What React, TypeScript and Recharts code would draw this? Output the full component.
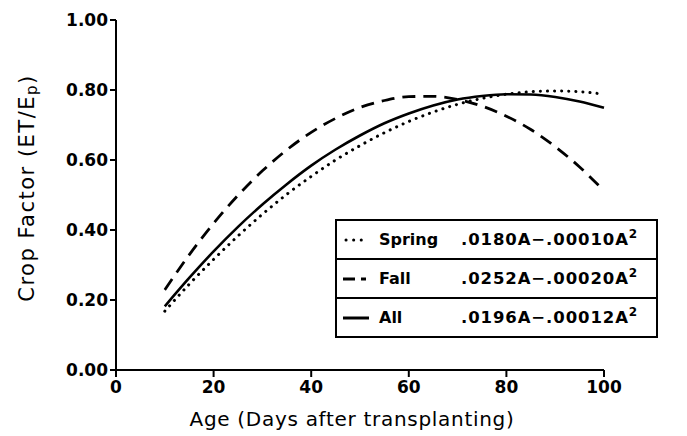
import { Line, LineChart, XAxis, YAxis } from "recharts";

document.body.style.margin = "0";

const days = [10, 15, 20, 25, 30, 35, 40, 45, 50, 55, 60, 65, 70, 75, 80, 85, 90, 95, 100];
const spring = [0.168, 0.245, 0.316, 0.383, 0.445, 0.502, 0.553, 0.6, 0.641, 0.678, 0.71, 0.737, 0.759, 0.776, 0.788, 0.795, 0.797, 0.795, 0.788];
const fall = [0.229, 0.329, 0.419, 0.499, 0.569, 0.629, 0.679, 0.719, 0.75, 0.77, 0.781, 0.782, 0.773, 0.754, 0.725, 0.687, 0.638, 0.58, 0.512];
const all = [0.182, 0.263, 0.339, 0.409, 0.473, 0.531, 0.584, 0.63, 0.67, 0.705, 0.733, 0.756, 0.773, 0.783, 0.788, 0.787, 0.78, 0.767, 0.749];

const xTicks = [0, 20, 40, 60, 80, 100];
const yTicks = [0, 0.2, 0.4, 0.6, 0.8, 1.0];

const legendRows = [
  { name: "Spring", coef: ".0180A\u2212.00010A", kind: "dot" },
  { name: "Fall", coef: ".0252A\u2212.00020A", kind: "dash" },
  { name: "All", coef: ".0196A\u2212.00012A", kind: "solid" },
];

const data = days.map((d, i) => ({ day: d, spring: spring[i], fall: fall[i], all: all[i] }));

const font = "'DejaVu Sans', sans-serif";

function Sample({ kind }: { kind: string }) {
  return (
    <svg width={28} height={10} style={{ display: "block" }}>
      {kind === "dot" && (
        <line x1={3} y1={5} x2={24} y2={5} stroke="#000" strokeWidth={3} strokeDasharray="0.1 7.5" strokeLinecap="round" />
      )}
      {kind === "dash" && (
        <>
          <line x1={0} y1={5} x2={12} y2={5} stroke="#000" strokeWidth={3} />
          <line x1={18} y1={5} x2={23} y2={5} stroke="#000" strokeWidth={3} />
        </>
      )}
      {kind === "solid" && <line x1={0} y1={5} x2={26} y2={5} stroke="#000" strokeWidth={3} />}
    </svg>
  );
}

function LegendBox() {
  return (
    <div
      style={{
        position: "absolute",
        left: 335,
        top: 219,
        border: "2px solid #000",
        width: 319,
        fontFamily: font,
        fontWeight: "bold",
        background: "#fff",
      }}
    >
      {legendRows.map((r, i) => (
        <div
          key={r.name}
          style={{
            display: "flex",
            alignItems: "center",
            height: 37,
            paddingLeft: 6,
            borderTop: i === 0 ? "none" : "2px solid #000",
          }}
        >
          <Sample kind={r.kind} />
          <span style={{ width: 82, marginLeft: 8, fontSize: 16 }}>{r.name}</span>
          <span style={{ fontSize: 16.5, letterSpacing: 0.9 }}>
            {r.coef}
            <sup style={{ fontSize: 12, verticalAlign: "7px", lineHeight: 0 }}>2</sup>
          </span>
        </div>
      ))}
    </div>
  );
}

export default function App() {
  return (
    <div style={{ position: "relative", width: 687, height: 436 }}>
      <LineChart width={687} height={436} data={data} margin={{ top: 20, right: 83, left: 0, bottom: 0 }}>
        <XAxis
          dataKey="day"
          type="number"
          domain={[0, 100]}
          ticks={xTicks}
          height={66}
          stroke="#000"
          strokeWidth={2}
          tickSize={7}
          tickMargin={4}
          tick={{ fill: "#000", fontFamily: font, fontWeight: "bold", fontSize: 17 }}
          label={({ viewBox }: any) => (
            <text
              x={viewBox.x + viewBox.width / 2 - 8}
              y={viewBox.y + 56}
              textAnchor="middle"
              fontFamily={font}
              fontSize={20}
              letterSpacing={0.7}
              fill="#000"
            >
              Age (Days after transplanting)
            </text>
          )}
        />
        <YAxis
          type="number"
          domain={[0, 1]}
          ticks={yTicks}
          width={116}
          stroke="#000"
          strokeWidth={2}
          tickSize={6}
          tickMargin={2}
          tickFormatter={(v: number) => v.toFixed(2)}
          tick={{ fill: "#000", fontFamily: font, fontWeight: "bold", fontSize: 17 }}
          label={({ viewBox }: any) => {
            const cx = 27;
            const cy = viewBox.y + viewBox.height / 2 - 7;
            return (
              <text
                x={cx}
                y={cy}
                transform={`rotate(-90, ${cx}, ${cy})`}
                textAnchor="middle"
                dominantBaseline="central"
                fontFamily={font}
                fontSize={21}
                letterSpacing={1.5}
                fill="#000"
              >
                Crop Factor (ET/E
                <tspan fontSize={15} dy={5}>p</tspan>
                <tspan dy={-5}>)</tspan>
              </text>
            );
          }}
        />
        <Line
          type="monotone"
          dataKey="spring"
          stroke="#000"
          strokeWidth={3}
          strokeDasharray="0.1 7"
          strokeLinecap="round"
          dot={false}
          isAnimationActive={false}
        />
        <Line
          type="monotone"
          dataKey="fall"
          stroke="#000"
          strokeWidth={2.8}
          strokeDasharray="13 8"
          dot={false}
          isAnimationActive={false}
        />
        <Line type="monotone" dataKey="all" stroke="#000" strokeWidth={2.6} dot={false} isAnimationActive={false} />
      </LineChart>
      <LegendBox />
    </div>
  );
}
